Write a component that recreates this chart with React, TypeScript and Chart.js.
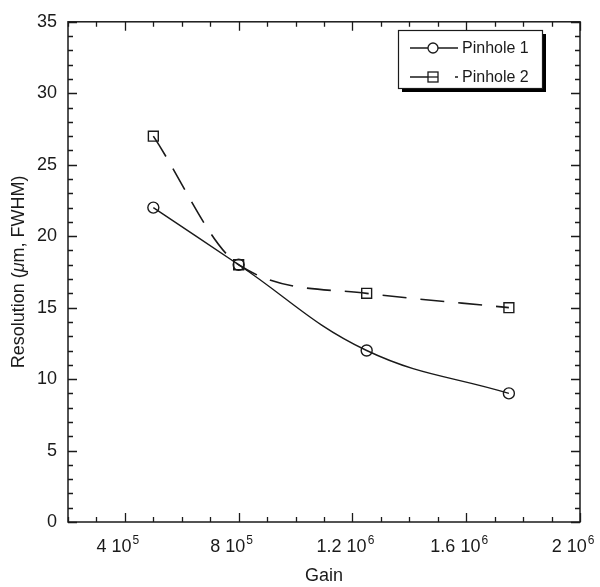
import React, { useEffect, useRef } from "react";
import { Chart, registerables } from "chart.js";

Chart.register(...registerables);

const gain = [5e5, 8e5, 1.25e6, 1.75e6];
const pinhole1 = [22, 18, 12, 9];
const pinhole2 = [27, 18, 16, 15];
const seriesNames = ["Pinhole 1", "Pinhole 2"];
const xTickValues = [4e5, 8e5, 1.2e6, 1.6e6, 2e6];
const xTickMantissa = ["4", "8", "1.2", "1.6", "2"];
const xTickExponent = ["5", "5", "6", "6", "6"];
const yTickValues = [0, 5, 10, 15, 20, 25, 30, 35];
const xTitle = "Gain";
const yTitleParts = ["Resolution (", "\u03bc", "m, FWHM)"];

const FONT = '"Liberation Sans", Arial, Helvetica, sans-serif';
const INK = "#1a1a1a";

const framePlugin = {
  id: "framePlugin",
  afterDraw(chart: any) {
    const { ctx, chartArea } = chart;
    const { left, right, top, bottom } = chartArea;
    const xs = chart.scales.x;
    const ys = chart.scales.y;
    ctx.save();
    ctx.strokeStyle = INK;
    ctx.lineWidth = 1.5;
    ctx.setLineDash([]);
    ctx.strokeRect(left, top, right - left, bottom - top);

    ctx.lineWidth = 1.3;
    ctx.beginPath();
    for (let i = 0; i <= 35; i++) {
      const py = Math.round(ys.getPixelForValue(i)) + 0.5;
      const len = i % 5 === 0 ? 9 : 5;
      ctx.moveTo(left, py);
      ctx.lineTo(left + len, py);
      ctx.moveTo(right, py);
      ctx.lineTo(right - len, py);
    }
    for (let i = 2; i <= 20; i++) {
      const px = Math.round(xs.getPixelForValue(i * 1e5)) + 0.5;
      const len = i % 4 === 0 ? 9 : 5;
      ctx.moveTo(px, bottom);
      ctx.lineTo(px, bottom - len);
      ctx.moveTo(px, top);
      ctx.lineTo(px, top + len);
    }
    ctx.stroke();

    // x tick labels with superscript exponent
    ctx.fillStyle = INK;
    ctx.textBaseline = "alphabetic";
    xTickValues.forEach((v, i) => {
      const px = xs.getPixelForValue(v);
      const base = xTickMantissa[i] + " 10";
      ctx.font = `18px ${FONT}`;
      const wb = ctx.measureText(base).width;
      ctx.font = `12px ${FONT}`;
      const we = ctx.measureText(xTickExponent[i]).width;
      const total = wb + 1 + we;
      const start = px - 7 - total / 2;
      ctx.font = `18px ${FONT}`;
      ctx.textAlign = "left";
      ctx.fillText(base, start, 552);
      ctx.font = `12px ${FONT}`;
      ctx.fillText(xTickExponent[i], start + wb + 1, 544);
    });

    // x title
    ctx.font = `18px ${FONT}`;
    ctx.textAlign = "center";
    ctx.fillText(xTitle, (left + right) / 2, 581);

    // y title (rotated) with italic mu
    ctx.save();
    ctx.translate(24, (top + bottom) / 2);
    ctx.rotate(-Math.PI / 2);
    ctx.textAlign = "left";
    const fonts = [`18px ${FONT}`, `italic 18px ${FONT}`, `18px ${FONT}`];
    const widths = yTitleParts.map((t, i) => {
      ctx.font = fonts[i];
      return ctx.measureText(t).width;
    });
    const tw = widths.reduce((a, b) => a + b, 0);
    let cx = -tw / 2;
    yTitleParts.forEach((t, i) => {
      ctx.font = fonts[i];
      ctx.fillText(t, cx, 0);
      cx += widths[i];
    });
    ctx.restore();

    // legend
    const bx = 398, by = 30, bw = 144, bh = 58;
    ctx.fillStyle = "#000";
    ctx.fillRect(bx + 4, by + 4, bw, bh);
    ctx.fillStyle = "#fff";
    ctx.fillRect(bx, by, bw, bh);
    ctx.strokeStyle = INK;
    ctx.lineWidth = 1.2;
    ctx.strokeRect(bx + 0.5, by + 0.5, bw, bh);

    const rows = [48, 77];
    ctx.lineWidth = 1.3;
    ctx.setLineDash([]);
    ctx.beginPath();
    ctx.moveTo(410, rows[0]);
    ctx.lineTo(458, rows[0]);
    ctx.stroke();
    ctx.beginPath();
    ctx.fillStyle = "#fff";
    ctx.arc(433, rows[0], 5, 0, Math.PI * 2);
    ctx.fill();
    ctx.stroke();
    ctx.lineWidth = 1.5;
    ctx.setLineDash([24, 21]);
    ctx.beginPath();
    ctx.moveTo(410, rows[1]);
    ctx.lineTo(458, rows[1]);
    ctx.stroke();
    ctx.setLineDash([]);
    ctx.lineWidth = 1.3;
    ctx.fillStyle = "#fff";
    ctx.fillRect(428, rows[1] - 5, 10, 10);
    ctx.strokeRect(428, rows[1] - 5, 10, 10);
    ctx.beginPath();
    ctx.moveTo(428, rows[1]);
    ctx.lineTo(438, rows[1]);
    ctx.stroke();

    ctx.fillStyle = INK;
    ctx.font = `16px ${FONT}`;
    ctx.textAlign = "left";
    ctx.textBaseline = "middle";
    ctx.fillText(seriesNames[0], 462, rows[0] + 1);
    ctx.fillText(seriesNames[1], 462, rows[1] + 1);
    ctx.restore();
  },
};

export default function App() {
  const ref = useRef<HTMLCanvasElement | null>(null);
  useEffect(() => {
    if (!ref.current) return;
    const chart = new Chart(ref.current, {
      type: "line",
      data: {
        datasets: [
          {
            label: seriesNames[0],
            data: gain.map((g, i) => ({ x: g, y: pinhole1[i] })),
            borderColor: INK,
            borderWidth: 1.4,
            pointStyle: "circle",
            pointRadius: 5.5,
            pointBorderWidth: 1.4,
            pointBorderColor: INK,
            pointBackgroundColor: "rgba(0,0,0,0)",
            tension: 0.4,
            fill: false,
          },
          {
            label: seriesNames[1],
            data: gain.map((g, i) => ({ x: g, y: pinhole2[i] })),
            borderColor: INK,
            borderWidth: 1.6,
            borderDash: [24, 14],
            pointStyle: "rect",
            pointRadius: 7,
            pointBorderWidth: 1.4,
            pointBorderColor: INK,
            pointBackgroundColor: "rgba(0,0,0,0)",
            cubicInterpolationMode: "monotone",
            fill: false,
          },
        ],
      },
      options: {
        animation: false,
        responsive: false,
        layout: { padding: { top: 12, right: 20, left: 0, bottom: 0 } },
        plugins: {
          legend: { display: false },
          tooltip: { enabled: false },
        },
        scales: {
          x: {
            type: "linear",
            min: 2e5,
            max: 2e6,
            afterBuildTicks: (s: any) => {
              s.ticks = xTickValues.map((v) => ({ value: v }));
            },
            afterFit: (s: any) => {
              s.height = 65;
            },
            grid: { display: false, drawTicks: false },
            border: { display: false },
            ticks: {
              color: "rgba(0,0,0,0)",
              maxRotation: 0,
              autoSkip: false,
              font: { family: FONT, size: 11 },
              callback: () => "",
            },
            title: { display: false },
          },
          y: {
            type: "linear",
            min: 0,
            max: 35,
            afterBuildTicks: (s: any) => {
              s.ticks = yTickValues.map((v) => ({ value: v }));
            },
            afterFit: (s: any) => {
              s.width = 68;
            },
            grid: { display: false, drawTicks: false },
            border: { display: false },
            ticks: {
              color: INK,
              padding: 11,
              autoSkip: false,
              font: { family: FONT, size: 18 },
            },
            title: { display: false },
          },
        },
      },
      plugins: [framePlugin],
    } as any);
    return () => chart.destroy();
  }, []);
  return (
    <div style={{ position: "absolute", left: 0, top: 0, width: 600, height: 587, background: "#fff" }}>
      <canvas ref={ref} width={600} height={587} style={{ display: "block" }} />
    </div>
  );
}
